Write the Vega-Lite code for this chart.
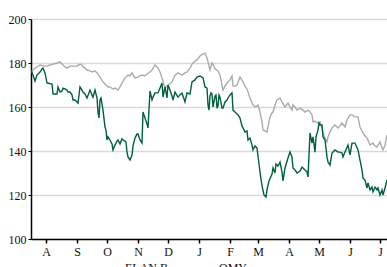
{
"$schema": "https://vega.github.io/schema/vega-lite/v6.json",
"width": 356, "height": 220,
"autosize": {"type": "none"},
"padding": {"left": 31, "top": 19, "right": 0, "bottom": 28},
"background": "white",
"config": {"view": {"stroke": null}, "font": "Liberation Serif"},
"data": {"values": [
{"date":"2010-07-17","series":"OMY","price":175.9},{"date":"2010-07-21","series":"OMY","price":177.7},{"date":"2010-07-23","series":"OMY","price":178.2},{"date":"2010-07-26","series":"OMY","price":179.1},{"date":"2010-07-30","series":"OMY","price":178.6},{"date":"2010-08-02","series":"OMY","price":178.6},{"date":"2010-08-05","series":"OMY","price":179.1},{"date":"2010-08-08","series":"OMY","price":179.5},{"date":"2010-08-12","series":"OMY","price":180.0},{"date":"2010-08-15","series":"OMY","price":180.5},{"date":"2010-08-18","series":"OMY","price":179.1},{"date":"2010-08-20","series":"OMY","price":178.2},{"date":"2010-08-22","series":"OMY","price":177.7},{"date":"2010-08-25","series":"OMY","price":178.6},{"date":"2010-08-28","series":"OMY","price":178.6},{"date":"2010-09-01","series":"OMY","price":178.6},{"date":"2010-09-04","series":"OMY","price":179.5},{"date":"2010-09-06","series":"OMY","price":179.1},{"date":"2010-09-07","series":"OMY","price":178.2},{"date":"2010-09-09","series":"OMY","price":177.7},{"date":"2010-09-11","series":"OMY","price":176.8},{"date":"2010-09-14","series":"OMY","price":176.4},{"date":"2010-09-16","series":"OMY","price":175.9},{"date":"2010-09-19","series":"OMY","price":176.4},{"date":"2010-09-21","series":"OMY","price":175.5},{"date":"2010-09-24","series":"OMY","price":173.6},{"date":"2010-09-27","series":"OMY","price":171.4},{"date":"2010-09-29","series":"OMY","price":170.5},{"date":"2010-10-02","series":"OMY","price":169.1},{"date":"2010-10-04","series":"OMY","price":169.1},{"date":"2010-10-07","series":"OMY","price":168.2},{"date":"2010-10-09","series":"OMY","price":168.6},{"date":"2010-10-12","series":"OMY","price":167.7},{"date":"2010-10-14","series":"OMY","price":169.1},{"date":"2010-10-16","series":"OMY","price":170.9},{"date":"2010-10-19","series":"OMY","price":173.2},{"date":"2010-10-22","series":"OMY","price":174.5},{"date":"2010-10-24","series":"OMY","price":174.1},{"date":"2010-10-26","series":"OMY","price":175.5},{"date":"2010-10-29","series":"OMY","price":173.2},{"date":"2010-11-01","series":"OMY","price":173.6},{"date":"2010-11-03","series":"OMY","price":174.1},{"date":"2010-11-05","series":"OMY","price":174.5},{"date":"2010-11-08","series":"OMY","price":174.1},{"date":"2010-11-10","series":"OMY","price":175.0},{"date":"2010-11-13","series":"OMY","price":175.9},{"date":"2010-11-15","series":"OMY","price":176.8},{"date":"2010-11-18","series":"OMY","price":179.1},{"date":"2010-11-21","series":"OMY","price":177.7},{"date":"2010-11-23","series":"OMY","price":175.9},{"date":"2010-11-25","series":"OMY","price":173.2},{"date":"2010-11-28","series":"OMY","price":168.6},{"date":"2010-12-01","series":"OMY","price":170.0},{"date":"2010-12-03","series":"OMY","price":170.5},{"date":"2010-12-05","series":"OMY","price":171.4},{"date":"2010-12-08","series":"OMY","price":174.5},{"date":"2010-12-11","series":"OMY","price":175.5},{"date":"2010-12-13","series":"OMY","price":175.0},{"date":"2010-12-15","series":"OMY","price":174.5},{"date":"2010-12-18","series":"OMY","price":175.5},{"date":"2010-12-20","series":"OMY","price":175.9},{"date":"2010-12-23","series":"OMY","price":177.7},{"date":"2010-12-25","series":"OMY","price":179.5},{"date":"2010-12-26","series":"OMY","price":180.0},{"date":"2010-12-28","series":"OMY","price":180.9},{"date":"2010-12-30","series":"OMY","price":181.4},{"date":"2011-01-02","series":"OMY","price":183.2},{"date":"2011-01-05","series":"OMY","price":184.1},{"date":"2011-01-07","series":"OMY","price":184.5},{"date":"2011-01-09","series":"OMY","price":182.3},{"date":"2011-01-10","series":"OMY","price":180.5},{"date":"2011-01-12","series":"OMY","price":176.8},{"date":"2011-01-14","series":"OMY","price":180.0},{"date":"2011-01-15","series":"OMY","price":179.5},{"date":"2011-01-17","series":"OMY","price":177.3},{"date":"2011-01-20","series":"OMY","price":176.4},{"date":"2011-01-22","series":"OMY","price":174.5},{"date":"2011-01-24","series":"OMY","price":170.0},{"date":"2011-01-25","series":"OMY","price":167.7},{"date":"2011-01-27","series":"OMY","price":169.5},{"date":"2011-01-29","series":"OMY","price":170.9},{"date":"2011-02-01","series":"OMY","price":172.3},{"date":"2011-02-03","series":"OMY","price":174.1},{"date":"2011-02-04","series":"OMY","price":169.5},{"date":"2011-02-06","series":"OMY","price":169.5},{"date":"2011-02-08","series":"OMY","price":170.0},{"date":"2011-02-11","series":"OMY","price":173.6},{"date":"2011-02-14","series":"OMY","price":171.4},{"date":"2011-02-16","series":"OMY","price":169.5},{"date":"2011-02-18","series":"OMY","price":168.2},{"date":"2011-02-21","series":"OMY","price":164.1},{"date":"2011-02-24","series":"OMY","price":160.9},{"date":"2011-02-26","series":"OMY","price":160.0},{"date":"2011-02-28","series":"OMY","price":160.5},{"date":"2011-03-01","series":"OMY","price":160.9},{"date":"2011-03-03","series":"OMY","price":157.7},{"date":"2011-03-05","series":"OMY","price":153.2},{"date":"2011-03-06","series":"OMY","price":149.5},{"date":"2011-03-08","series":"OMY","price":149.1},{"date":"2011-03-10","series":"OMY","price":148.6},{"date":"2011-03-11","series":"OMY","price":150.9},{"date":"2011-03-13","series":"OMY","price":155.5},{"date":"2011-03-15","series":"OMY","price":157.3},{"date":"2011-03-16","series":"OMY","price":157.7},{"date":"2011-03-18","series":"OMY","price":160.9},{"date":"2011-03-20","series":"OMY","price":163.2},{"date":"2011-03-23","series":"OMY","price":164.1},{"date":"2011-03-25","series":"OMY","price":162.3},{"date":"2011-03-28","series":"OMY","price":160.0},{"date":"2011-03-31","series":"OMY","price":161.8},{"date":"2011-04-02","series":"OMY","price":160.0},{"date":"2011-04-04","series":"OMY","price":158.6},{"date":"2011-04-05","series":"OMY","price":160.9},{"date":"2011-04-07","series":"OMY","price":160.0},{"date":"2011-04-09","series":"OMY","price":158.6},{"date":"2011-04-12","series":"OMY","price":159.5},{"date":"2011-04-15","series":"OMY","price":158.6},{"date":"2011-04-17","series":"OMY","price":157.7},{"date":"2011-04-20","series":"OMY","price":158.6},{"date":"2011-04-22","series":"OMY","price":157.7},{"date":"2011-04-24","series":"OMY","price":156.4},{"date":"2011-04-25","series":"OMY","price":153.2},{"date":"2011-04-27","series":"OMY","price":153.6},{"date":"2011-04-29","series":"OMY","price":152.7},{"date":"2011-05-02","series":"OMY","price":153.2},{"date":"2011-05-04","series":"OMY","price":150.5},{"date":"2011-05-05","series":"OMY","price":148.2},{"date":"2011-05-07","series":"OMY","price":145.9},{"date":"2011-05-09","series":"OMY","price":144.1},{"date":"2011-05-10","series":"OMY","price":146.4},{"date":"2011-05-12","series":"OMY","price":148.6},{"date":"2011-05-14","series":"OMY","price":150.5},{"date":"2011-05-17","series":"OMY","price":151.8},{"date":"2011-05-20","series":"OMY","price":150.5},{"date":"2011-05-22","series":"OMY","price":151.4},{"date":"2011-05-24","series":"OMY","price":152.7},{"date":"2011-05-27","series":"OMY","price":150.9},{"date":"2011-05-29","series":"OMY","price":154.1},{"date":"2011-05-30","series":"OMY","price":155.0},{"date":"2011-06-01","series":"OMY","price":156.4},{"date":"2011-06-03","series":"OMY","price":156.4},{"date":"2011-06-06","series":"OMY","price":155.5},{"date":"2011-06-09","series":"OMY","price":155.5},{"date":"2011-06-11","series":"OMY","price":150.9},{"date":"2011-06-14","series":"OMY","price":148.2},{"date":"2011-06-16","series":"OMY","price":146.8},{"date":"2011-06-18","series":"OMY","price":145.9},{"date":"2011-06-21","series":"OMY","price":142.7},{"date":"2011-06-24","series":"OMY","price":143.6},{"date":"2011-06-26","series":"OMY","price":142.3},{"date":"2011-06-28","series":"OMY","price":141.8},{"date":"2011-07-01","series":"OMY","price":144.1},{"date":"2011-07-03","series":"OMY","price":141.4},{"date":"2011-07-04","series":"OMY","price":140.5},{"date":"2011-07-06","series":"OMY","price":142.7},{"date":"2011-07-08","series":"OMY","price":147.3},
{"date":"2010-07-17","series":"ELAN B","price":176.8},{"date":"2010-07-19","series":"ELAN B","price":174.5},{"date":"2010-07-21","series":"ELAN B","price":171.8},{"date":"2010-07-23","series":"ELAN B","price":174.5},{"date":"2010-07-26","series":"ELAN B","price":175.9},{"date":"2010-07-28","series":"ELAN B","price":177.3},{"date":"2010-07-29","series":"ELAN B","price":177.7},{"date":"2010-07-31","series":"ELAN B","price":175.5},{"date":"2010-08-02","series":"ELAN B","price":170.9},{"date":"2010-08-03","series":"ELAN B","price":170.9},{"date":"2010-08-05","series":"ELAN B","price":170.5},{"date":"2010-08-07","series":"ELAN B","price":170.5},{"date":"2010-08-08","series":"ELAN B","price":165.9},{"date":"2010-08-10","series":"ELAN B","price":165.9},{"date":"2010-08-12","series":"ELAN B","price":165.9},{"date":"2010-08-13","series":"ELAN B","price":169.1},{"date":"2010-08-15","series":"ELAN B","price":166.8},{"date":"2010-08-17","series":"ELAN B","price":167.3},{"date":"2010-08-18","series":"ELAN B","price":168.6},{"date":"2010-08-20","series":"ELAN B","price":168.2},{"date":"2010-08-22","series":"ELAN B","price":167.7},{"date":"2010-08-23","series":"ELAN B","price":166.8},{"date":"2010-08-25","series":"ELAN B","price":166.8},{"date":"2010-08-27","series":"ELAN B","price":165.5},{"date":"2010-08-28","series":"ELAN B","price":163.2},{"date":"2010-08-30","series":"ELAN B","price":163.2},{"date":"2010-09-01","series":"ELAN B","price":162.3},{"date":"2010-09-02","series":"ELAN B","price":161.8},{"date":"2010-09-04","series":"ELAN B","price":169.1},{"date":"2010-09-06","series":"ELAN B","price":167.7},{"date":"2010-09-07","series":"ELAN B","price":166.8},{"date":"2010-09-09","series":"ELAN B","price":165.9},{"date":"2010-09-11","series":"ELAN B","price":164.1},{"date":"2010-09-14","series":"ELAN B","price":167.7},{"date":"2010-09-16","series":"ELAN B","price":165.5},{"date":"2010-09-17","series":"ELAN B","price":164.5},{"date":"2010-09-19","series":"ELAN B","price":167.7},{"date":"2010-09-21","series":"ELAN B","price":164.1},{"date":"2010-09-22","series":"ELAN B","price":157.7},{"date":"2010-09-23","series":"ELAN B","price":155.0},{"date":"2010-09-24","series":"ELAN B","price":163.2},{"date":"2010-09-25","series":"ELAN B","price":164.1},{"date":"2010-09-27","series":"ELAN B","price":158.6},{"date":"2010-09-29","series":"ELAN B","price":150.9},{"date":"2010-09-30","series":"ELAN B","price":149.5},{"date":"2010-10-01","series":"ELAN B","price":145.0},{"date":"2010-10-02","series":"ELAN B","price":146.4},{"date":"2010-10-04","series":"ELAN B","price":145.0},{"date":"2010-10-06","series":"ELAN B","price":143.2},{"date":"2010-10-07","series":"ELAN B","price":140.5},{"date":"2010-10-09","series":"ELAN B","price":142.7},{"date":"2010-10-11","series":"ELAN B","price":144.5},{"date":"2010-10-12","series":"ELAN B","price":145.0},{"date":"2010-10-14","series":"ELAN B","price":143.2},{"date":"2010-10-16","series":"ELAN B","price":145.5},{"date":"2010-10-17","series":"ELAN B","price":145.0},{"date":"2010-10-19","series":"ELAN B","price":144.5},{"date":"2010-10-20","series":"ELAN B","price":144.1},{"date":"2010-10-21","series":"ELAN B","price":139.5},{"date":"2010-10-22","series":"ELAN B","price":137.3},{"date":"2010-10-24","series":"ELAN B","price":135.9},{"date":"2010-10-26","series":"ELAN B","price":138.2},{"date":"2010-10-27","series":"ELAN B","price":142.3},{"date":"2010-10-29","series":"ELAN B","price":145.9},{"date":"2010-10-31","series":"ELAN B","price":147.7},{"date":"2010-11-01","series":"ELAN B","price":147.7},{"date":"2010-11-03","series":"ELAN B","price":145.0},{"date":"2010-11-05","series":"ELAN B","price":143.6},{"date":"2010-11-06","series":"ELAN B","price":157.7},{"date":"2010-11-08","series":"ELAN B","price":155.0},{"date":"2010-11-10","series":"ELAN B","price":152.3},{"date":"2010-11-11","series":"ELAN B","price":150.5},{"date":"2010-11-13","series":"ELAN B","price":167.3},{"date":"2010-11-15","series":"ELAN B","price":163.2},{"date":"2010-11-16","series":"ELAN B","price":164.5},{"date":"2010-11-18","series":"ELAN B","price":166.4},{"date":"2010-11-21","series":"ELAN B","price":166.4},{"date":"2010-11-23","series":"ELAN B","price":168.6},{"date":"2010-11-25","series":"ELAN B","price":170.9},{"date":"2010-11-26","series":"ELAN B","price":164.5},{"date":"2010-11-28","series":"ELAN B","price":169.1},{"date":"2010-11-30","series":"ELAN B","price":164.1},{"date":"2010-12-01","series":"ELAN B","price":170.0},{"date":"2010-12-03","series":"ELAN B","price":167.7},{"date":"2010-12-05","series":"ELAN B","price":165.0},{"date":"2010-12-06","series":"ELAN B","price":163.2},{"date":"2010-12-08","series":"ELAN B","price":166.8},{"date":"2010-12-11","series":"ELAN B","price":164.5},{"date":"2010-12-13","series":"ELAN B","price":165.5},{"date":"2010-12-15","series":"ELAN B","price":166.4},{"date":"2010-12-18","series":"ELAN B","price":162.3},{"date":"2010-12-20","series":"ELAN B","price":166.4},{"date":"2010-12-23","series":"ELAN B","price":165.9},{"date":"2010-12-25","series":"ELAN B","price":171.4},{"date":"2010-12-28","series":"ELAN B","price":172.3},{"date":"2010-12-30","series":"ELAN B","price":173.6},{"date":"2011-01-02","series":"ELAN B","price":174.1},{"date":"2011-01-05","series":"ELAN B","price":173.2},{"date":"2011-01-07","series":"ELAN B","price":169.1},{"date":"2011-01-09","series":"ELAN B","price":168.6},{"date":"2011-01-10","series":"ELAN B","price":160.9},{"date":"2011-01-11","series":"ELAN B","price":158.6},{"date":"2011-01-12","series":"ELAN B","price":165.0},{"date":"2011-01-13","series":"ELAN B","price":166.4},{"date":"2011-01-14","series":"ELAN B","price":165.9},{"date":"2011-01-15","series":"ELAN B","price":160.0},{"date":"2011-01-17","series":"ELAN B","price":165.0},{"date":"2011-01-18","series":"ELAN B","price":165.5},{"date":"2011-01-19","series":"ELAN B","price":159.5},{"date":"2011-01-20","series":"ELAN B","price":160.5},{"date":"2011-01-21","series":"ELAN B","price":165.5},{"date":"2011-01-22","series":"ELAN B","price":164.5},{"date":"2011-01-24","series":"ELAN B","price":159.5},{"date":"2011-01-25","series":"ELAN B","price":159.5},{"date":"2011-01-27","series":"ELAN B","price":162.3},{"date":"2011-01-29","series":"ELAN B","price":163.2},{"date":"2011-01-30","series":"ELAN B","price":164.1},{"date":"2011-02-01","series":"ELAN B","price":165.5},{"date":"2011-02-03","series":"ELAN B","price":166.4},{"date":"2011-02-04","series":"ELAN B","price":158.6},{"date":"2011-02-06","series":"ELAN B","price":157.7},{"date":"2011-02-08","series":"ELAN B","price":156.8},{"date":"2011-02-09","series":"ELAN B","price":156.4},{"date":"2011-02-11","series":"ELAN B","price":155.0},{"date":"2011-02-13","series":"ELAN B","price":151.4},{"date":"2011-02-14","series":"ELAN B","price":150.5},{"date":"2011-02-16","series":"ELAN B","price":148.6},{"date":"2011-02-18","series":"ELAN B","price":149.1},{"date":"2011-02-19","series":"ELAN B","price":145.0},{"date":"2011-02-21","series":"ELAN B","price":145.9},{"date":"2011-02-23","series":"ELAN B","price":142.7},{"date":"2011-02-24","series":"ELAN B","price":140.5},{"date":"2011-02-26","series":"ELAN B","price":142.3},{"date":"2011-02-28","series":"ELAN B","price":141.4},{"date":"2011-03-01","series":"ELAN B","price":137.7},{"date":"2011-03-03","series":"ELAN B","price":130.5},{"date":"2011-03-05","series":"ELAN B","price":124.1},{"date":"2011-03-07","series":"ELAN B","price":120.0},{"date":"2011-03-09","series":"ELAN B","price":119.1},{"date":"2011-03-10","series":"ELAN B","price":122.3},{"date":"2011-03-12","series":"ELAN B","price":126.4},{"date":"2011-03-15","series":"ELAN B","price":129.5},{"date":"2011-03-16","series":"ELAN B","price":132.3},{"date":"2011-03-18","series":"ELAN B","price":130.0},{"date":"2011-03-19","series":"ELAN B","price":134.1},{"date":"2011-03-21","series":"ELAN B","price":133.2},{"date":"2011-03-23","series":"ELAN B","price":135.0},{"date":"2011-03-25","series":"ELAN B","price":130.5},{"date":"2011-03-26","series":"ELAN B","price":126.4},{"date":"2011-03-28","series":"ELAN B","price":132.3},{"date":"2011-03-31","series":"ELAN B","price":136.8},{"date":"2011-04-02","series":"ELAN B","price":139.5},{"date":"2011-04-04","series":"ELAN B","price":137.3},{"date":"2011-04-05","series":"ELAN B","price":132.3},{"date":"2011-04-07","series":"ELAN B","price":131.4},{"date":"2011-04-09","series":"ELAN B","price":130.0},{"date":"2011-04-12","series":"ELAN B","price":130.9},{"date":"2011-04-14","series":"ELAN B","price":132.7},{"date":"2011-04-15","series":"ELAN B","price":132.3},{"date":"2011-04-17","series":"ELAN B","price":131.4},{"date":"2011-04-19","series":"ELAN B","price":130.5},{"date":"2011-04-20","series":"ELAN B","price":128.2},{"date":"2011-04-22","series":"ELAN B","price":148.2},{"date":"2011-04-24","series":"ELAN B","price":143.6},{"date":"2011-04-25","series":"ELAN B","price":146.4},{"date":"2011-04-27","series":"ELAN B","price":139.5},{"date":"2011-04-28","series":"ELAN B","price":146.4},{"date":"2011-04-30","series":"ELAN B","price":149.5},{"date":"2011-05-01","series":"ELAN B","price":152.7},{"date":"2011-05-02","series":"ELAN B","price":151.8},{"date":"2011-05-04","series":"ELAN B","price":151.8},{"date":"2011-05-05","series":"ELAN B","price":146.4},{"date":"2011-05-07","series":"ELAN B","price":145.0},{"date":"2011-05-09","series":"ELAN B","price":137.3},{"date":"2011-05-10","series":"ELAN B","price":135.0},{"date":"2011-05-12","series":"ELAN B","price":133.6},{"date":"2011-05-14","series":"ELAN B","price":139.1},{"date":"2011-05-17","series":"ELAN B","price":140.5},{"date":"2011-05-20","series":"ELAN B","price":139.5},{"date":"2011-05-22","series":"ELAN B","price":139.5},{"date":"2011-05-24","series":"ELAN B","price":139.1},{"date":"2011-05-25","series":"ELAN B","price":137.3},{"date":"2011-05-27","series":"ELAN B","price":139.5},{"date":"2011-05-30","series":"ELAN B","price":142.7},{"date":"2011-06-01","series":"ELAN B","price":138.2},{"date":"2011-06-03","series":"ELAN B","price":143.6},{"date":"2011-06-06","series":"ELAN B","price":143.6},{"date":"2011-06-09","series":"ELAN B","price":140.5},{"date":"2011-06-11","series":"ELAN B","price":135.9},{"date":"2011-06-13","series":"ELAN B","price":131.4},{"date":"2011-06-14","series":"ELAN B","price":127.7},{"date":"2011-06-16","series":"ELAN B","price":126.8},{"date":"2011-06-18","series":"ELAN B","price":123.2},{"date":"2011-06-19","series":"ELAN B","price":125.5},{"date":"2011-06-21","series":"ELAN B","price":122.3},{"date":"2011-06-23","series":"ELAN B","price":123.6},{"date":"2011-06-24","series":"ELAN B","price":121.4},{"date":"2011-06-26","series":"ELAN B","price":123.6},{"date":"2011-06-28","series":"ELAN B","price":122.3},{"date":"2011-06-29","series":"ELAN B","price":123.2},{"date":"2011-07-01","series":"ELAN B","price":120.0},{"date":"2011-07-03","series":"ELAN B","price":122.3},{"date":"2011-07-04","series":"ELAN B","price":120.0},{"date":"2011-07-06","series":"ELAN B","price":123.2},{"date":"2011-07-08","series":"ELAN B","price":126.8}
]},
"mark": {"type": "line", "strokeWidth": 1.4, "clip": true},
"encoding": {
  "x": {"field": "date", "type": "temporal",
    "scale": {"type": "utc", "domain": [{"year": 2010, "month": 7, "date": 17, "utc": true}, {"year": 2011, "month": 7, "date": 8, "utc": true}]},
    "axis": {"title": null, "tickCount": {"interval": "month", "step": 1}, "labelExpr": "substring(utcFormat(datum.value, '%b'), 0, 1)", "grid": false, "domainColor": "black", "domainWidth": 1.5, "tickColor": "black", "tickSize": 4, "tickWidth": 1.5, "labelFontSize": 12, "labelFont": "Liberation Serif", "labelColor": "#111", "labelPadding": 3, "labelOverlap": false, "labelFlush": false}},
  "y": {"field": "price", "type": "quantitative",
    "scale": {"domain": [100, 200]},
    "axis": {"title": null, "values": [100, 120, 140, 160, 180, 200], "grid": true, "gridColor": "#d9d9d9", "gridWidth": 1.5, "domainColor": "black", "domainWidth": 1.5, "tickColor": "black", "tickSize": 3, "labelFontSize": 12, "labelFont": "Liberation Serif", "labelColor": "#111", "labelPadding": 2}},
  "color": {"field": "series", "type": "nominal",
    "scale": {"domain": ["ELAN B", "OMY"], "range": ["#00603a", "#ababab"]},
    "legend": {"title": null, "orient": "none", "legendX": 73, "legendY": 240, "direction": "horizontal", "symbolType": "stroke", "symbolStrokeWidth": 1.5, "symbolSize": 225, "labelFontSize": 12, "labelFont": "Liberation Serif", "labelColor": "#111", "columnPadding": 28}}
}
}
